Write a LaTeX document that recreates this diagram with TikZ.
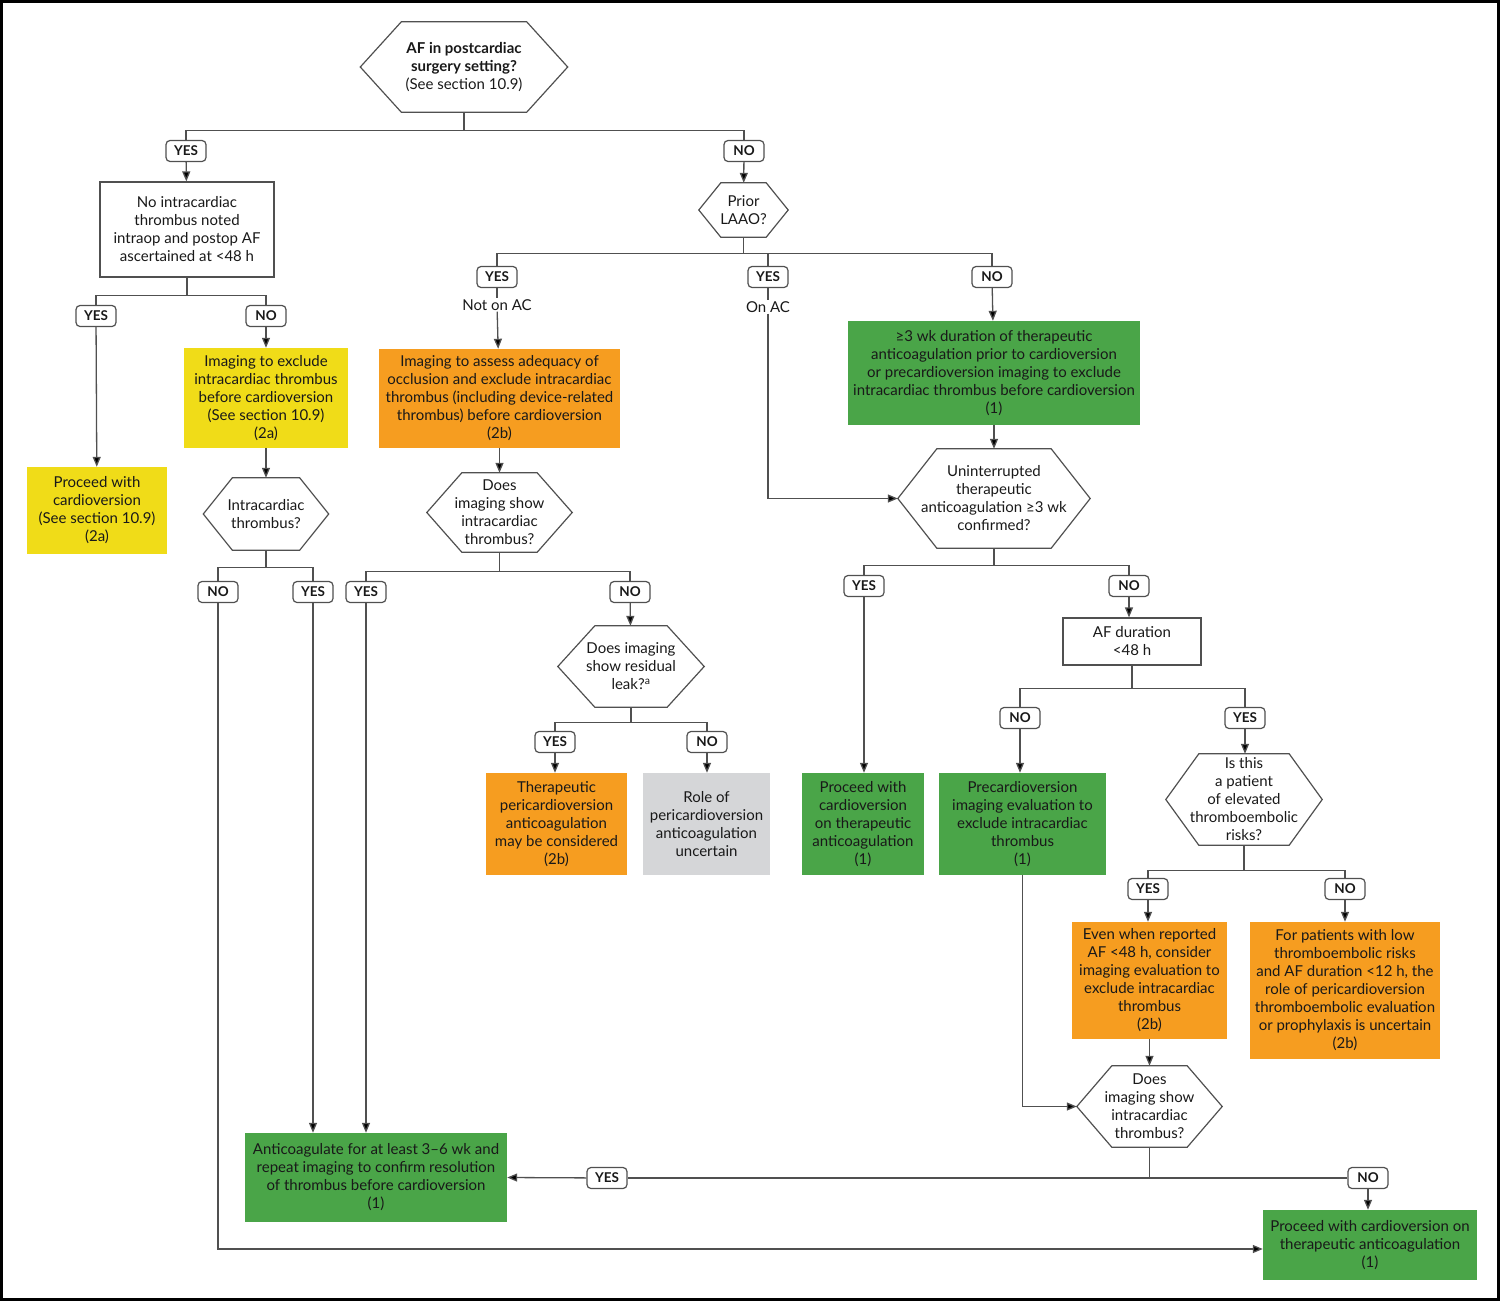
\documentclass[tikz,border=0pt]{standalone}
\usepackage{fontspec}
\setmainfont{Lato}
\usetikzlibrary{arrows.meta}

\definecolor{linegray}{RGB}{80,80,80}
\definecolor{txt}{RGB}{25,25,25}
\definecolor{afyellow}{RGB}{240,220,24}
\definecolor{aforange}{RGB}{246,157,32}
\definecolor{afgreen}{RGB}{74,165,72}
\definecolor{afgray}{RGB}{213,214,216}

\newcommand{\fs}{\fontsize{15}{18}\selectfont}

\tikzset{
  base/.style={align=center, font=\fs, text=txt, inner sep=2pt},
  whitebox/.style={base, draw=linegray, line width=1.2pt, fill=white},
  yelbox/.style={base, fill=afyellow},
  orbox/.style={base, fill=aforange},
  grbox/.style={base, fill=afgreen},
  graybox/.style={base, fill=afgray},
  hexline/.style={draw=linegray, line width=1.2pt},
  hexa/.style={base, inner sep=0pt,
    append after command={\pgfextra{\let\hx\tikzlastnode
      \draw[hexline] (\hx.west) -- ([xshift=#1]\hx.north west) -- ([xshift=-#1]\hx.north east)
        -- (\hx.east) -- ([xshift=-#1]\hx.south east) -- ([xshift=#1]\hx.south west) -- cycle;}}},
  tag/.style={draw=linegray, line width=1.2pt, rounded corners=4pt, fill=white, text=txt,
    font=\fontsize{13.5}{15}\selectfont\bfseries, inner sep=1pt, minimum width=40, minimum height=21},
  line/.style={draw=linegray, line width=1.3pt},
  arrow/.style={line, -{Triangle[length=10pt,width=8pt,fill=black]}},
}

\begin{document}
\begin{tikzpicture}[x=1pt, y=-1pt]
  \useasboundingbox (0,0) rectangle (1500,1301);
  \draw[line width=3pt, black] (1.5,1.5) rectangle (1498.5,1299.5);

  % start
  \node[hexa=41, minimum width=207, minimum height=90] (q1) at (464,67)
    {\textbf{AF in postcardiac}\\\textbf{surgery setting?}\\(See section 10.9)};
  \node[tag] (yes1) at (186,151) {YES};
  \node[tag] (no1) at (744,151) {NO};

  % left branch
  \node[whitebox, minimum width=174, minimum height=95] (b1) at (187,229.5)
    {No intracardiac\\thrombus noted\\intraop and postop AF\\ascertained at <48 h};
  \node[tag] (yes2) at (96,316) {YES};
  \node[tag] (no2) at (266,316) {NO};
  \node[yelbox, minimum width=140, minimum height=87] (p1) at (97,510.5)
    {Proceed with\\cardioversion\\(See section 10.9)\\(2a)};
  \node[yelbox, minimum width=164, minimum height=100] (i1) at (266,398)
    {Imaging to exclude\\intracardiac thrombus\\before cardioversion\\(See section 10.9)\\(2a)};
  \node[hexa=29, minimum width=125, minimum height=72] (q2) at (266,514)
    {Intracardiac\\thrombus?};
  \node[tag] (no3) at (218,592) {NO};
  \node[tag] (yes3) at (313,592) {YES};

  % prior LAAO
  \node[hexa=22, minimum width=89, minimum height=54] (q3) at (743.5,210) {Prior\\LAAO?};
  \node[tag] (yes4) at (497,277) {YES};
  \node[tag] (yes5) at (768,277) {YES};
  \node[tag] (no4) at (992,277) {NO};
  \node[base, fill=white, inner sep=1pt] (noac) at (497,305) {Not on AC};
  \node[base, fill=white, inner sep=1pt] (onac) at (768,307) {On AC};

  \node[orbox, minimum width=241, minimum height=99] (i2) at (499.5,398.5)
    {Imaging to assess adequacy of\\occlusion and exclude intracardiac\\thrombus (including device-related\\thrombus) before cardioversion\\(2b)};
  \node[hexa=35, minimum width=145, minimum height=79] (q4) at (499.5,512.5)
    {Does\\imaging show\\intracardiac\\thrombus?};
  \node[tag] (yes6) at (366,592) {YES};
  \node[tag] (no6) at (630,592) {NO};
  \node[hexa=37, minimum width=146, minimum height=81] (q5) at (631,666.5)
    {Does imaging\\show residual\\leak?\textsuperscript{a}};
  \node[tag] (yes7) at (555,742) {YES};
  \node[tag] (no7) at (707,742) {NO};
  \node[orbox, minimum width=141, minimum height=102] (t1) at (556.5,824)
    {Therapeutic\\pericardioversion\\anticoagulation\\may be considered\\(2b)};
  \node[graybox, minimum width=127, minimum height=102] (r1) at (706.5,824)
    {Role of\\pericardioversion\\anticoagulation\\uncertain};

  % no prior LAAO
  \node[grbox, minimum width=292, minimum height=104] (g1) at (994,373)
    {≥3 wk duration of therapeutic\\anticoagulation prior to cardioversion\\or precardioversion imaging to exclude\\intracardiac thrombus before cardioversion\\(1)};
  \node[hexa=39, minimum width=192, minimum height=99] (q6) at (994,498.5)
    {Uninterrupted\\therapeutic\\anticoagulation ≥3 wk\\confirmed?};
  \node[tag] (yes8) at (864,586) {YES};
  \node[tag] (no8) at (1129,586) {NO};
  \node[grbox, minimum width=122, minimum height=102] (c1) at (863,824)
    {Proceed with\\cardioversion\\on therapeutic\\anticoagulation\\(1)};
  \node[whitebox, minimum width=138, minimum height=47] (d1) at (1132,641.5)
    {AF duration\\<48 h};
  \node[tag] (no9) at (1020,718) {NO};
  \node[tag] (yes9) at (1245,718) {YES};
  \node[grbox, minimum width=167, minimum height=102] (pc) at (1022.5,824)
    {Precardioversion\\imaging evaluation to\\exclude intracardiac\\thrombus\\(1)};
  \node[hexa=33, minimum width=156, minimum height=91] (q7) at (1244,799.5)
    {Is this\\a patient\\of elevated\\thromboembolic\\risks?};
  \node[tag] (yes10) at (1148,889) {YES};
  \node[tag] (no10) at (1345,889) {NO};
  \node[orbox, minimum width=155, minimum height=117] (e1) at (1149.5,980.5)
    {Even when reported\\AF <48 h, consider\\imaging evaluation to\\exclude intracardiac\\thrombus\\(2b)};
  \node[orbox, minimum width=190, minimum height=137] (f1) at (1345,990.5)
    {For patients with low\\thromboembolic risks\\and AF duration <12 h, the\\role of pericardioversion\\thromboembolic evaluation\\or prophylaxis is uncertain\\(2b)};
  \node[hexa=35, minimum width=145, minimum height=81] (q8) at (1149.5,1106.5)
    {Does\\imaging show\\intracardiac\\thrombus?};
  \node[tag] (yes11) at (607,1178) {YES};
  \node[tag] (no11) at (1368,1178) {NO};

  % end boxes
  \node[grbox, minimum width=262, minimum height=89] (a1) at (376,1177.5)
    {Anticoagulate for at least 3--6 wk and\\repeat imaging to confirm resolution\\of thrombus before cardioversion\\(1)};
  \node[grbox, minimum width=214, minimum height=70] (f2) at (1370,1245)
    {Proceed with cardioversion on\\therapeutic anticoagulation\\(1)};

  % connectors
  \draw[line] (q1.south) -- ++(0,18) -| (yes1);
  \draw[line] (q1.south) ++(0,18) -| (no1);
  \draw[arrow] (yes1) -- (b1);
  \draw[arrow] (no1) -- (q3);

  \draw[line] (b1.south) -- ++(0,18) -| (yes2);
  \draw[line] (b1.south) ++(0,18) -| (no2);
  \draw[arrow] (yes2) -- (p1);
  \draw[arrow] (no2) -- (i1);
  \draw[arrow] (i1) -- (q2);
  \draw[line] (q2.south) -- ++(0,17) -| (no3);
  \draw[line] (q2.south) ++(0,17) -| (yes3);
  \draw[arrow] (yes3) -- (yes3 |- a1.north);
  \draw[arrow] (no3) |- ([yshift=-4pt]f2.west);

  \draw[line] (q3.south) -- ++(0,16) -| (yes4);
  \draw[line] (q3.south) ++(0,16) -| (yes5);
  \draw[line] (q3.south) ++(0,16) -| (no4);
  \draw[line] (yes4) -- (noac);
  \draw[arrow] (noac) -- (i2);
  \draw[line] (yes5) -- (onac);
  \draw[arrow] (onac) |- (q6.west);
  \draw[arrow] (no4) -- (g1);
  \draw[arrow] (g1) -- (q6);

  \draw[arrow] (i2) -- (q4);
  \draw[line] (q4.south) -- ++(0,19) -| (yes6);
  \draw[line] (q4.south) ++(0,19) -| (no6);
  \draw[arrow] (yes6) -- (yes6 |- a1.north);
  \draw[arrow] (no6) -- (q5);
  \draw[line] (q5.south) -- ++(0,15) -| (yes7);
  \draw[line] (q5.south) ++(0,15) -| (no7);
  \draw[arrow] (yes7) -- (yes7 |- t1.north);
  \draw[arrow] (no7) -- (no7 |- r1.north);

  \draw[line] (q6.south) -- ++(0,17) -| (yes8);
  \draw[line] (q6.south) ++(0,17) -| (no8);
  \draw[arrow] (yes8) -- (yes8 |- c1.north);
  \draw[arrow] (no8) -- (no8 |- d1.north);
  \draw[line] (d1.south) -- ++(0,23) -| (no9);
  \draw[line] (d1.south) ++(0,23) -| (yes9);
  \draw[arrow] (no9) -- (no9 |- pc.north);
  \draw[arrow] (yes9) -- (yes9 |- q7.north);
  \draw[line] (q7.south) -- ++(0,25) -| (yes10);
  \draw[line] (q7.south) ++(0,25) -| (no10);
  \draw[arrow] (yes10) -- (yes10 |- e1.north);
  \draw[arrow] (no10) -- (no10 |- f1.north);
  \draw[arrow] (e1) -- (q8);
  \draw[arrow] (pc.south) |- (q8.west);

  \draw[line] (q8.south) |- (yes11);
  \draw[line] (q8.south) |- (no11);
  \draw[arrow] (yes11) -- (a1.east);
  \draw[arrow] (no11) -- (no11 |- f2.north);
\end{tikzpicture}
\end{document}
